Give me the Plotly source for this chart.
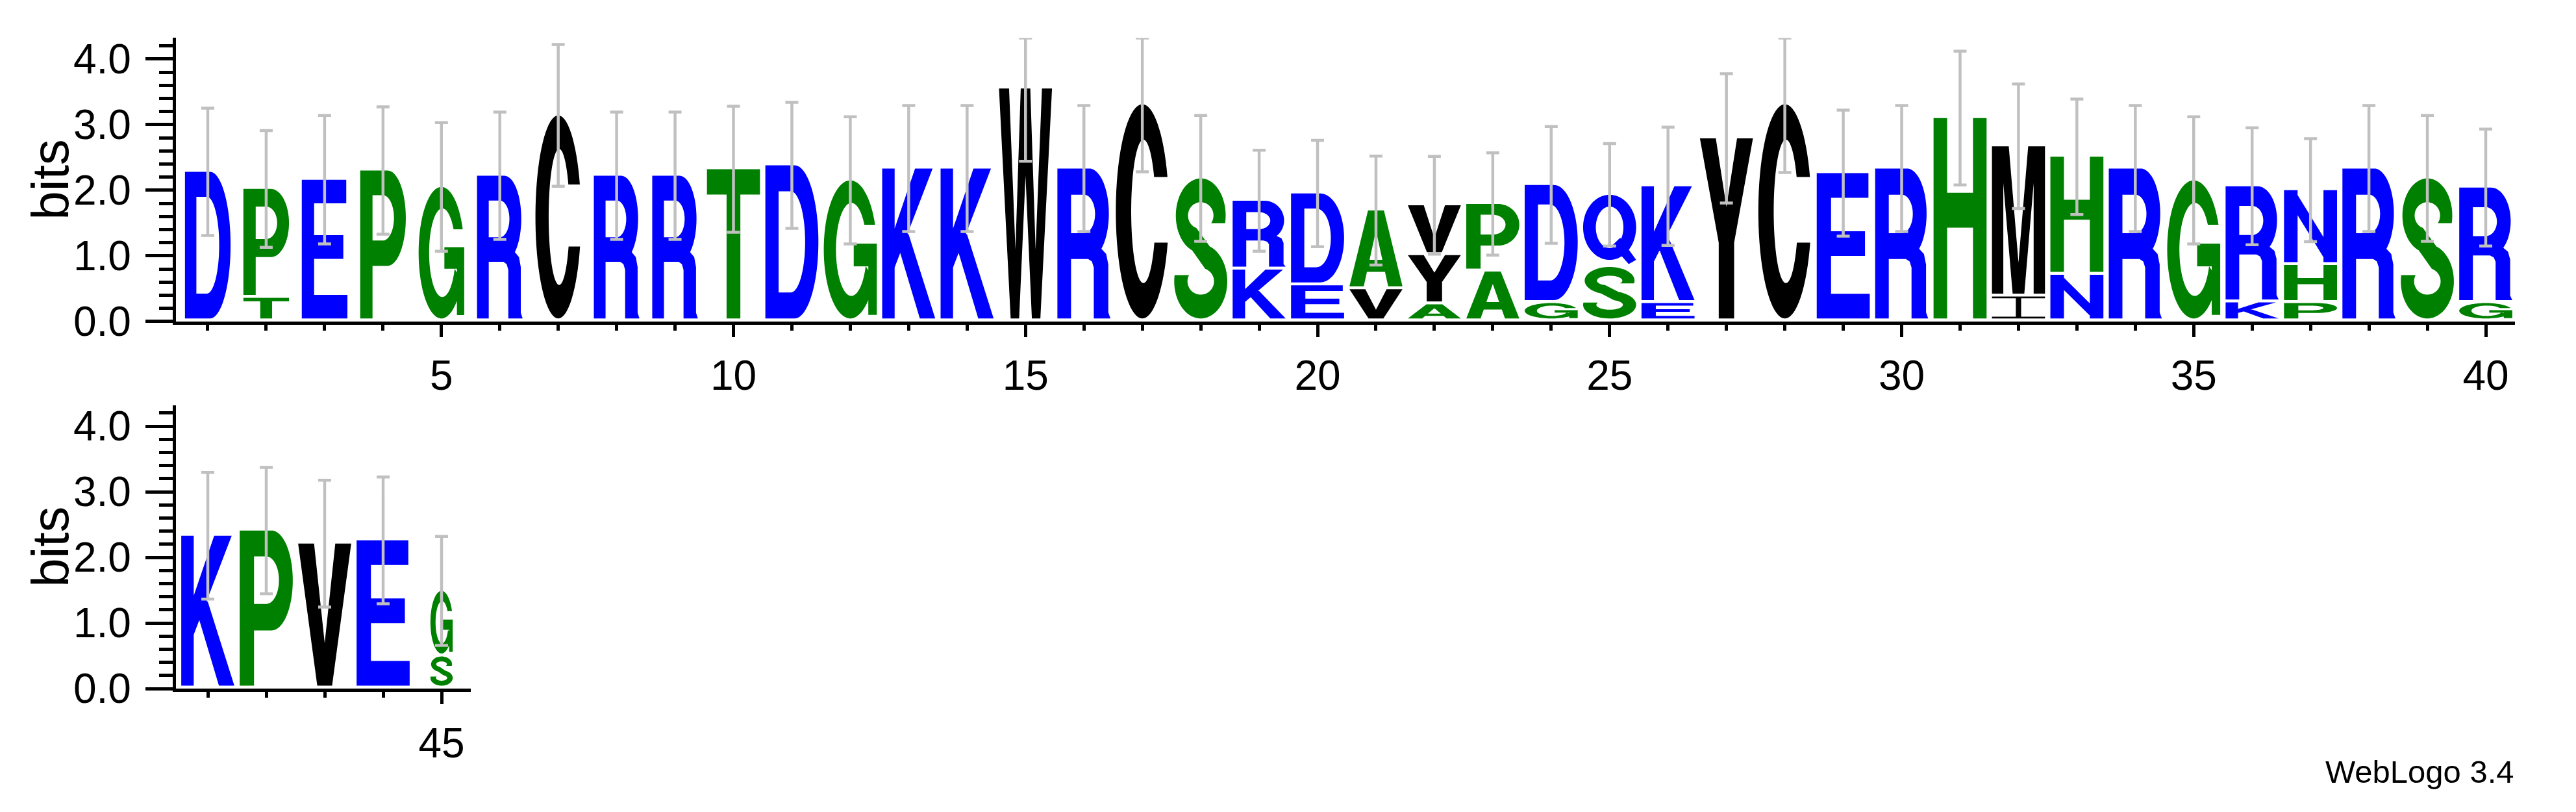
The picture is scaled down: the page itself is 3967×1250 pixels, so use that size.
import math
import plotly.graph_objects as go

positions = list(range(1, 46))
# letters of each stack, from bottom to top
stack_letters = ["D", "TP", "E", "P", "G", "R", "C", "R", "R", "T",
                 "D", "G", "K", "K", "W", "R", "C", "S", "KR", "ED",
                 "VA", "AYV", "AP", "GD", "SQ", "EK", "Y", "C", "E", "R",
                 "H", "IM", "NH", "R", "G", "KR", "PHN", "R", "S", "GR",
                 "K", "P", "V", "E", "SG"]
# bits of each letter, same order as stack_letters
stack_heights = [[2.28], [0.36, 1.66], [2.16], [2.30], [2.05], [2.22], [3.14], [2.22], [2.22], [2.32],
                 [2.38], [2.15], [2.33], [2.33], [3.55], [2.33], [3.31], [2.18], [0.79, 1.05], [0.55, 1.40],
                 [0.49, 1.20], [0.26, 0.75, 0.76], [0.76, 1.03], [0.28, 1.80], [0.83, 1.10], [0.28, 1.78],
                 [2.79], [3.31], [2.26], [2.33],
                 [3.10], [0.38, 2.29], [0.71, 1.80], [2.33], [2.15], [0.29, 1.77], [0.28, 0.58, 1.14],
                 [2.33], [2.18], [0.28, 1.76],
                 [2.33], [2.41], [2.21], [2.26], [0.49, 1.00]]
# small-sample error (+/- bits) drawn at the top of each stack
errors = [0.97, 0.89, 0.98, 0.97, 0.98, 0.97, 1.08, 0.97, 0.97, 0.96,
          0.96, 0.97, 0.96, 0.96, 1.11, 0.96, 1.03, 0.96, 0.77, 0.81,
          0.83, 0.745, 0.78, 0.89, 0.78, 0.90, 0.985, 1.04, 0.96, 0.96,
          1.02, 0.95, 0.88, 0.96, 0.97, 0.89, 0.785, 0.96, 0.96, 0.89,
          0.965, 0.963, 0.967, 0.967, 0.83]
# fraction of the column occupied (stack width scaling)
column_width = [0.86, 0.86, 0.86, 0.86, 0.86, 0.86, 0.86, 0.86, 0.86, 1.0,
                1.0, 1.0, 1.0, 1.0, 1.0, 1.0, 1.0, 1.0, 1.0, 1.0,
                1.0, 1.0, 1.0, 1.0, 1.0, 1.0, 1.0, 1.0, 1.0, 1.0,
                1.0, 1.0, 1.0, 1.0, 1.0, 1.0, 1.0, 1.0, 1.0, 1.0,
                1.0, 1.0, 1.0, 1.0, 0.42]
row1_ticks = [5, 10, 15, 20, 25, 30, 35, 40]
row2_ticks = [45]
y_ticks = [0, 1, 2, 3, 4]
y_ticklabels = ["0.0", "1.0", "2.0", "3.0", "4.0"]

# ---------------- style ----------------
YMAX = 4.32
GAP = 0.045
GLYPH_HALF = 0.454
FONT = "Liberation Sans, Arial, Helvetica, sans-serif"
COLORS = {"blue": "#0000FF", "green": "#008000", "black": "#000000"}
LETTER_COLOR = {}
for ch in "DEKRNQ":
    LETTER_COLOR[ch] = "blue"
for ch in "GSTPAH":
    LETTER_COLOR[ch] = "green"
for ch in "CWYVMI":
    LETTER_COLOR[ch] = "black"


# ---------------- glyph outlines in a unit box ----------------
def arc(cx, cy, rx, ry, t0, t1, n=48):
    return [(cx + rx * math.cos(t0 + (t1 - t0) * k / (n - 1)),
             cy + ry * math.sin(t0 + (t1 - t0) * k / (n - 1))) for k in range(n)]


def band(oc, orad, ic, irad, to, ti, n=48):
    return (arc(oc[0], oc[1], orad[0], orad[1], to[0], to[1], n)
            + arc(ic[0], ic[1], irad[0], irad[1], ti[1], ti[0], n))


def rect(x0, y0, x1, y1):
    return [(x0, y0), (x1, y0), (x1, y1), (x0, y1)]


PI = math.pi
asin = math.asin
GLYPHS = {
    "A": [[(0, 0), (0.27, 0), (0.52, 0.80), (0.52, 1), (0.35, 1)],
          [(1, 0), (0.73, 0), (0.48, 0.80), (0.48, 1), (0.65, 1)],
          rect(0.18, 0.19, 0.82, 0.35)],
    "C": [band((0.5, 0.5), (0.5, 0.5), (0.52, 0.5), (0.23, 0.335),
               (asin(0.32), 2 * PI - asin(0.292)),
               (asin(0.16 / 0.335), 2 * PI - asin(0.146 / 0.335)), 72)],
    "D": [rect(0, 0, 0.25, 1), rect(0, 0.83, 0.56, 1), rect(0, 0, 0.56, 0.17),
          band((0.55, 0.5), (0.45, 0.5), (0.48, 0.5), (0.27, 0.33),
               (-PI / 2, PI / 2), (-PI / 2, PI / 2))],
    "E": [rect(0, 0, 0.27, 1), rect(0, 0.83, 0.975, 1), rect(0, 0.43, 0.91, 0.6),
          rect(0, 0, 1, 0.17)],
    "G": [band((0.5, 0.5), (0.5, 0.5), (0.52, 0.5), (0.29, 0.337),
               (asin(0.356), 2 * PI - 0.45),
               (asin(0.178 / 0.337), 2 * PI - 0.37), 72),
          rect(0.84, 0.026, 1.0, 0.542), rect(0.565, 0.378, 1.0, 0.542)],
    "H": [rect(0, 0, 0.256, 1), rect(0.744, 0, 1, 1), rect(0, 0.453, 1, 0.627)],
    "I": [rect(0, 0, 1, 0.08), rect(0, 0.92, 1, 1), rect(0.45, 0, 0.55, 1)],
    "K": [rect(0, 0, 0.235, 1),
          [(0.235, 0.34), (0.95, 1), (0.62, 1), (0.235, 0.6)],
          [(0.71, 0), (1, 0), (0.5, 0.56), (0.3, 0.6), (0.33, 0.45)]],
    "M": [[(0, 0), (0.214, 0), (0.214, 0.75), (0.39, 0), (0.61, 0), (0.786, 0.75),
           (0.786, 0), (1, 0), (1, 1), (0.683, 1), (0.5, 0.21), (0.317, 1), (0, 1)]],
    "N": [rect(0, 0, 0.256, 1), rect(0.744, 0, 1, 1),
          [(0.2, 1), (0.2, 0.72), (0.8, 0), (0.8, 0.28)]],
    "P": [rect(0, 0, 0.27, 1), rect(0, 0.833, 0.6, 1), rect(0, 0.356, 0.6, 0.527),
          band((0.6, 0.678), (0.4, 0.322), (0.5, 0.68), (0.24, 0.153),
               (-PI / 2, PI / 2), (-PI / 2, PI / 2))],
    "Q": [band((0.5, 0.53), (0.5, 0.47), (0.5, 0.53), (0.26, 0.30),
               (PI / 2 - 0.1, 3 * PI / 2 + 0.1), (PI / 2 - 0.1, 3 * PI / 2 + 0.1)),
          band((0.5, 0.53), (0.5, 0.47), (0.5, 0.53), (0.26, 0.30),
               (-PI / 2 - 0.1, PI / 2 + 0.1), (-PI / 2 - 0.1, PI / 2 + 0.1)),
          [(0.55, 0.27), (0.7, 0.38), (1.0, 0.06), (0.86, 0.0)]],
    "R": [rect(0, 0, 0.257, 1), rect(0, 0.826, 0.6, 1), rect(0, 0.397, 0.62, 0.569),
          band((0.6, 0.7), (0.37, 0.3), (0.5, 0.6975), (0.21, 0.1285),
               (-PI / 2, PI / 2), (-PI / 2, PI / 2)),
          [(0.686, 0), (1, 0), (0.96, 0.04), (0.96, 0.36), (0.92, 0.43), (0.79, 0.48),
           (0.6, 0.45), (0.58, 0.397), (0.65, 0.38), (0.686, 0.34)]],
    "S": [band((0.5, 0.735), (0.47, 0.265), (0.5, 0.735), (0.24, 0.095),
               (asin(-0.055 / 0.265), math.radians(250)),
               (asin(-0.055 / 0.095), math.radians(250)), 60),
          band((0.5, 0.265), (0.5, 0.265), (0.5, 0.265), (0.25, 0.095),
               (math.radians(70), -PI - asin(0.045 / 0.265)),
               (math.radians(70), -PI - asin(0.045 / 0.095)), 60),
          [(0.418, 0.646), (0.339, 0.486), (0.5855, 0.354), (0.671, 0.514)]],
    "T": [rect(0, 0.83, 1, 1), rect(0.37, 0, 0.63, 1)],
    "V": [[(0, 1), (0.3, 1), (0.5, 0.3), (0.7, 1), (1, 1), (0.64, 0), (0.36, 0)]],
    "W": [[(0, 1), (0.19, 1), (0.31, 0.3), (0.41, 1), (0.59, 1), (0.69, 0.3), (0.81, 1),
           (1, 1), (0.78, 0), (0.62, 0), (0.5, 0.62), (0.38, 0), (0.22, 0)]],
    "Y": [[(0, 1), (0.3, 1), (0.5, 0.62), (0.7, 1), (1, 1), (0.645, 0.42), (0.645, 0),
           (0.355, 0), (0.355, 0.42)]],
}


def ccw(poly):
    area = 0.0
    for i in range(len(poly)):
        x0, y0 = poly[i]
        x1, y1 = poly[(i + 1) % len(poly)]
        area += x0 * y1 - x1 * y0
    return poly if area > 0 else poly[::-1]


# ---------------- build the letter shapes through the axes ----------------
shapes = {}  # (row, color) -> (xs, ys)
tops = {1: ([], [], [], []), 2: ([], [], [], [])}
for pos, letters, hts, err, wf in zip(positions, stack_letters, stack_heights, errors, column_width):
    row = 1 if pos <= 40 else 2
    hw = GLYPH_HALF * wf
    base = 0.0
    for ch, h in zip(letters, hts):
        y0, y1 = base + GAP, base + h
        xs, ys = shapes.setdefault((row, LETTER_COLOR[ch]), ([], []))
        for poly in GLYPHS[ch]:
            for (u, v) in ccw(poly):
                xs.append(pos + (u - 0.5) * 2 * hw)
                ys.append(y0 + v * (y1 - y0))
            xs.append(None)
            ys.append(None)
        base += h
    tx, ty, tp, tm = tops[row]
    tx.append(pos)
    ty.append(base)
    tp.append(min(err, YMAX - base))
    tm.append(err)

fig = go.Figure()
for (row, color), (xs, ys) in shapes.items():
    fig.add_trace(go.Scatter(
        x=xs, y=ys, mode="lines", fill="toself", fillcolor=COLORS[color],
        line=dict(width=0, color=COLORS[color], simplify=False),
        hoverinfo="skip", showlegend=False,
        xaxis="x" if row == 1 else "x2", yaxis="y" if row == 1 else "y2"))

for row in (1, 2):
    tx, ty, tp, tm = tops[row]
    fig.add_trace(go.Scatter(
        x=tx, y=ty, mode="markers", marker=dict(size=1, color="rgba(0,0,0,0)"),
        error_y=dict(type="data", symmetric=False, array=tp, arrayminus=tm,
                     color="#C0C0C0", thickness=4.5, width=10),
        hoverinfo="skip", showlegend=False,
        xaxis="x" if row == 1 else "x2", yaxis="y" if row == 1 else "y2"))

W, H = 3967, 1250
tickfont = dict(family=FONT, size=64, color="black")


def xaxis(domain, rng, ticks, minor_vals, anchor):
    return dict(domain=domain, range=rng, anchor=anchor, showgrid=False, zeroline=False,
                showline=True, linewidth=4.5, linecolor="black",
                ticks="outside", tickmode="array", tickvals=ticks,
                ticktext=[str(t) for t in ticks], ticklen=19, tickwidth=4.5, tickcolor="black",
                tickfont=tickfont, ticklabelstandoff=5,
                minor=dict(tickmode="array", tickvals=minor_vals, ticks="outside",
                           ticklen=9, tickwidth=4.5, tickcolor="black", showgrid=False))


def yaxis(domain, anchor):
    minor_vals = [round(0.2 * k, 1) for k in range(1, 22) if k % 5]
    return dict(domain=domain, range=[0, YMAX], anchor=anchor, showgrid=False, zeroline=False,
                showline=True, linewidth=4.5, linecolor="black",
                ticks="outside", tickmode="array", tickvals=y_ticks, ticktext=y_ticklabels,
                ticklen=42, tickwidth=4.5, tickcolor="black", tickfont=tickfont,
                ticklabelstandoff=9,
                minor=dict(tickmode="array", tickvals=minor_vals, ticks="outside",
                           ticklen=21, tickwidth=4.5, tickcolor="black", showgrid=False))


fig.update_layout(
    width=W, height=H, autosize=False,
    margin=dict(l=0, r=0, t=0, b=0, pad=0),
    paper_bgcolor="white", plot_bgcolor="white", showlegend=False,
    xaxis=xaxis([262.5 / W, 3865 / W], [0.45, 40.5], row1_ticks,
                [p for p in positions if p <= 40 and p not in row1_ticks], "y"),
    yaxis=yaxis([(H - 500) / H, (H - 50) / H], "x"),
    xaxis2=xaxis([262.5 / W, 717 / W], [40.45, 45.5], row2_ticks,
                 [p for p in positions if p > 40 and p not in row2_ticks], "y2"),
    yaxis2=yaxis([(H - 1083) / H, (H - 633) / H], "x2"),
    annotations=[
        dict(text="bits", textangle=-90, x=70 / W, y=(H - 275) / H, xref="paper", yref="paper",
             xanchor="center", yanchor="middle", showarrow=False,
             font=dict(family=FONT, size=80, color="black")),
        dict(text="bits", textangle=-90, x=70 / W, y=(H - 858) / H, xref="paper", yref="paper",
             xanchor="center", yanchor="middle", showarrow=False,
             font=dict(family=FONT, size=80, color="black")),
        dict(text="WebLogo 3.4", x=3866 / W, y=(H - 1245) / H, xref="paper", yref="paper",
             xanchor="right", yanchor="bottom", showarrow=False,
             font=dict(family=FONT, size=49, color="black")),
    ],
)

fig.write_html("out.html")
